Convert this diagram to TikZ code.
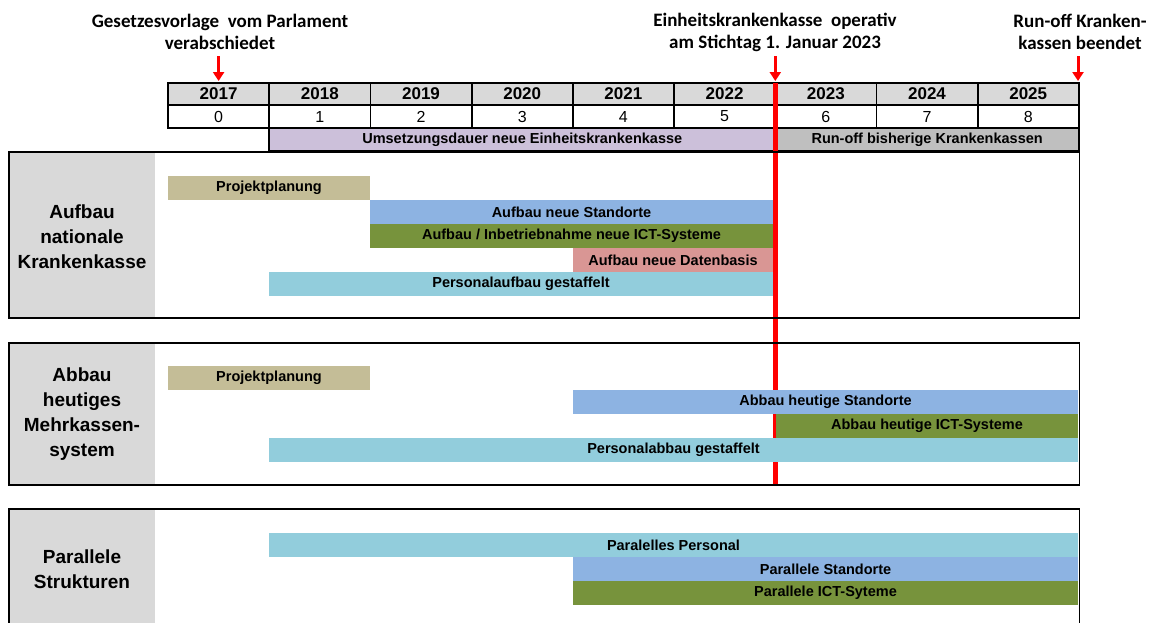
\documentclass[tikz,border=0pt]{standalone}
\usepackage{fontspec}
\setmainfont{Liberation Sans}
\newfontfamily\annfont{Carlito}
\usetikzlibrary{arrows.meta}

\definecolor{planTan}{HTML}{C4BD97}
\definecolor{siteBlue}{HTML}{8DB3E2}
\definecolor{ictGreen}{HTML}{77933C}
\definecolor{dataPink}{HTML}{D99694}
\definecolor{staffCyan}{HTML}{92CDDC}
\definecolor{phaseLilac}{HTML}{CCC0DA}
\definecolor{phaseGray}{HTML}{BFBFBF}
\definecolor{headGray}{HTML}{D9D9D9}
\definecolor{markRed}{HTML}{FF0000}

\begin{document}
\begin{tikzpicture}[x=1pt,y=-1pt,
  ann/.style={align=center, inner sep=0pt,
    font=\annfont\fontsize{19}{22}\selectfont\bfseries},
  redarrow/.style={draw=markRed, line width=3pt,
    -{Triangle[width=11pt,length=9pt]}},
  redline/.style={draw=markRed, line width=4.5pt},
  yearcell/.style={draw=black, line width=1.8pt, fill=headGray,
    minimum width=101.2pt, minimum height=22pt, inner sep=0pt,
    font=\fontsize{17}{20}\selectfont\bfseries},
  numcell/.style={draw=black, line width=1.8pt, fill=white,
    minimum width=101.2pt, minimum height=23pt, inner sep=0pt,
    font=\fontsize{16}{19}\selectfont},
  phasecell/.style={draw=black, line width=1.8pt,
    minimum height=23pt, inner sep=0pt,
    font=\fontsize{14.5}{17}\selectfont\bfseries},
  gbar/.style={minimum height=24pt, inner sep=0pt, text=black,
    font=\fontsize{14.5}{17}\selectfont\bfseries},
  sectlabel/.style={align=center, inner sep=0pt,
    font=\fontsize{19}{25}\selectfont\bfseries},
  frame/.style={draw=black, line width=1.6pt}
]
\useasboundingbox (0,0) rectangle (1153,622);

% milestone captions
\node[ann] (annLaw)  at (220,32)  {Gesetzesvorlage\ \ vom Parlament\\verabschiedet};
\node[ann] (annLive) at (775,32)  {Einheitskrankenkasse\ \ operativ\\am Stichtag 1. Januar 2023};
\node[ann] (annEnd)  at (1080,32) {Run-off Kranken-\\kassen beendet};

% milestone arrows
\coordinate (lawTop) at (218.6,56);  \coordinate (lawTip) at (218.6,81);
\coordinate (liveTop) at (775.3,56); \coordinate (liveTip) at (775.3,81);
\coordinate (endTop) at (1078,56);   \coordinate (endTip) at (1078,81);
\draw[redarrow] (lawTop) -- (lawTip);
\draw[redarrow] (liveTop) -- (liveTip);
\draw[redarrow] (endTop) -- (endTip);

% year header and project years
\foreach \yr [count=\i from 0] in {2017,2018,2019,2020,2021,2022,2023,2024,2025} {
  \node[yearcell] (y\yr) at ({218.6+101.2*\i},94) {\yr};
  \node[numcell]  (n\i)  at ({218.6+101.2*\i},116.5) {\i};
}

% phases
\node[phasecell, fill=phaseLilac, minimum width=506.1pt] (phImpl) at (522.25,139.5)
  {Umsetzungsdauer neue Einheitskrankenkasse};
\node[phasecell, fill=phaseGray, minimum width=303.7pt] (phRunoff) at (927.15,139.5)
  {Run-off bisherige Krankenkassen};

% section label panels
\fill[headGray] (9,152) rectangle (155,318);
\fill[headGray] (9,343) rectangle (155,485);
\fill[headGray] (9,509) rectangle (155,640);
\node[sectlabel] (labBuild) at (82,237)   {Aufbau\\nationale\\Krankenkasse};
\node[sectlabel] (labDismantle) at (82,414.5) {Abbau\\heutiges\\Mehrkassen-\\system};
\node[sectlabel] (labParallel) at (82,569.5) {Parallele\\Strukturen};

% cut-over date line
\coordinate (cutTop) at (775.3,83);
\coordinate (cutBot) at (775.3,485);
\draw[redline] (cutTop) -- (cutBot);

% section 1: build-up
\node[gbar, fill=planTan,   minimum width=202pt] (b1plan)  at (269,188)   {Projektplanung};
\node[gbar, fill=siteBlue,  minimum width=403pt] (b1site)  at (571.5,212) {Aufbau neue Standorte};
\node[gbar, fill=ictGreen,  minimum width=403pt] (b1ict)   at (571.5,236) {Aufbau / Inbetriebnahme neue ICT-Systeme};
\node[gbar, fill=dataPink,  minimum width=200pt] (b1data)  at (673,260)   {Aufbau neue Datenbasis};
\node[gbar, fill=staffCyan, minimum width=504pt] (b1staff) at (521,284)   {Personalaufbau gestaffelt};

% section 2: dismantling
\node[gbar, fill=planTan,   minimum width=202pt] (b2plan)  at (269,378)    {Projektplanung};
\node[gbar, fill=siteBlue,  minimum width=505pt] (b2site)  at (825.5,402)  {Abbau heutige Standorte};
\node[gbar, fill=ictGreen,  minimum width=302pt] (b2ict)   at (927,426)    {Abbau heutige ICT-Systeme};
\node[gbar, fill=staffCyan, minimum width=809pt] (b2staff) at (673.5,450)  {Personalabbau gestaffelt};

% section 3: parallel structures
\node[gbar, fill=staffCyan, minimum width=809pt] (b3staff) at (673.5,545) {Paralelles Personal};
\node[gbar, fill=siteBlue,  minimum width=505pt] (b3site)  at (825.5,569) {Parallele Standorte};
\node[gbar, fill=ictGreen,  minimum width=505pt] (b3ict)   at (825.5,593) {Parallele ICT-Syteme};

% section frames
\draw[frame] (9,152) rectangle (1079.5,318);
\draw[frame] (9,343) rectangle (1079.5,485);
\draw[frame] (9,509) rectangle (1079.5,640);
\end{tikzpicture}
\end{document}
